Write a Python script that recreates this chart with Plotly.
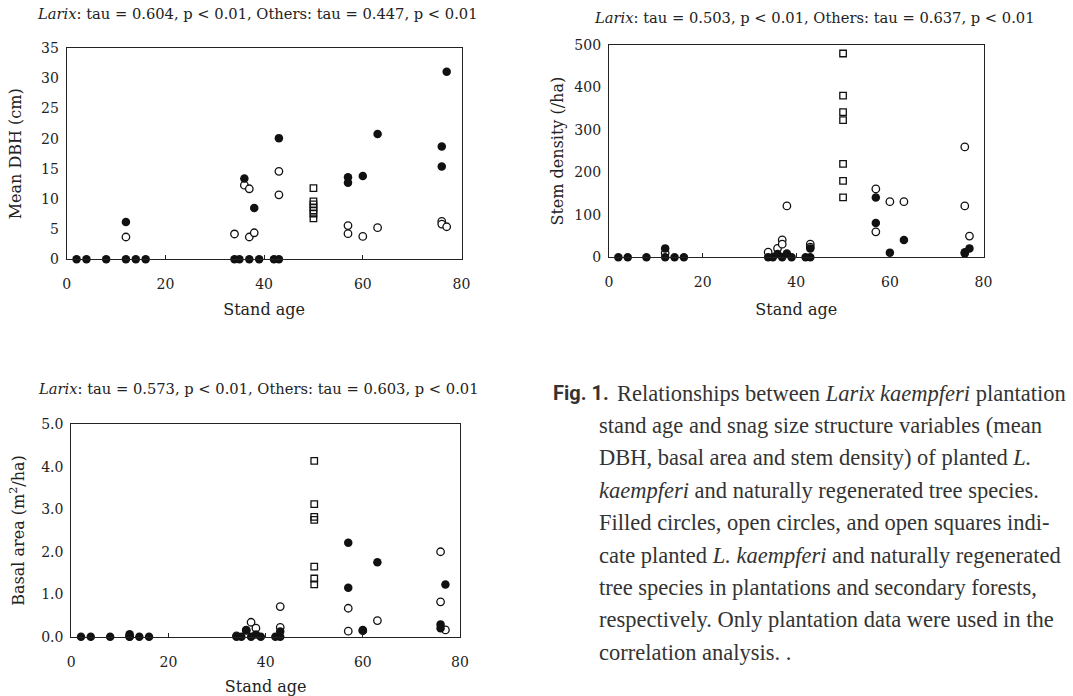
import plotly.graph_objects as go

W, H = 1073, 696

# ---------------- data ----------------
# Mean DBH (cm)
larix_dbh_age = [2, 4, 8, 12, 12, 14, 16, 34, 35, 36, 37, 38, 39, 42, 43, 43, 57, 57, 60, 63, 76, 76, 77]
larix_dbh = [0, 0, 0, 0, 6.2, 0, 0, 0, 0, 13.4, 0, 8.5, 0, 0, 0, 20.1, 13.6, 12.7, 13.8, 20.8, 18.7, 15.4, 31.1]
others_dbh_age = [12, 34, 36, 37, 37, 38, 43, 43, 57, 57, 60, 63, 76, 76, 77]
others_dbh = [3.7, 4.2, 12.3, 11.7, 3.7, 4.4, 14.6, 10.7, 5.6, 4.25, 3.8, 5.25, 6.3, 5.85, 5.4]
secondary_dbh_age = [50, 50, 50, 50, 50, 50, 50]
secondary_dbh = [11.8, 9.6, 9.1, 8.6, 8.1, 7.6, 6.8]

# Stem density (/ha)
larix_den_age = [2, 4, 8, 12, 12, 14, 16, 34, 35, 36, 37, 38, 39, 42, 43, 43, 57, 57, 60, 63, 76, 76, 77]
larix_den = [0, 0, 0, 0, 21, 0, 0, 0, 0, 8, 0, 9, 0, 0, 0, 21, 141, 81, 11, 41, 9, 12, 21]
others_den_age = [12, 34, 36, 37, 37, 38, 43, 43, 57, 57, 60, 63, 76, 76, 77]
others_den = [10, 12, 21, 41, 31, 121, 31, 24, 161, 60, 131, 131, 260, 121, 50]
secondary_den_age = [50, 50, 50, 50, 50, 50, 50]
secondary_den = [480, 381, 342, 323, 220, 180, 141]

# Basal area (m2/ha)
larix_ba_age = [2, 4, 8, 12, 12, 14, 16, 34, 35, 36, 37, 38, 39, 42, 43, 43, 57, 57, 60, 63, 76, 76, 77]
larix_ba = [0, 0, 0, 0, 0.06, 0, 0, 0, 0, 0.16, 0, 0.05, 0, 0, 0, 0.12, 2.21, 1.15, 0.16, 1.75, 0.29, 0.2, 1.23]
others_ba_age = [12, 34, 36, 37, 38, 43, 43, 57, 57, 60, 63, 76, 76, 77]
others_ba = [0.01, 0.02, 0.15, 0.34, 0.2, 0.71, 0.22, 0.67, 0.13, 0.14, 0.38, 2.0, 0.82, 0.16]
secondary_ba_age = [50, 50, 50, 50, 50, 50, 50]
secondary_ba = [4.14, 3.12, 2.82, 2.75, 1.65, 1.37, 1.23]

panel_titles = [
    "<i>Larix</i>: tau = 0.604, p &lt; 0.01, Others: tau = 0.447, p &lt; 0.01",
    "<i>Larix</i>: tau = 0.503, p &lt; 0.01, Others: tau = 0.637, p &lt; 0.01",
    "<i>Larix</i>: tau = 0.573, p &lt; 0.01, Others: tau = 0.603, p &lt; 0.01",
]
y_titles = ["Mean DBH (cm)", "Stem density (/ha)", "Basal area (m<sup>2</sup>/ha)"]
x_title = "Stand age"

caption_label = "<b>Fig. 1.</b>"
caption_lines = [
    "Relationships between <i>Larix kaempferi</i> plantation",
    "stand age and snag size structure variables (mean",
    "DBH, basal area and stem density) of planted <i>L.</i>",
    "<i>kaempferi</i> and naturally regenerated tree species.",
    "Filled circles, open circles, and open squares indi-",
    "cate planted <i>L. kaempferi</i> and naturally regenerated",
    "tree species in plantations and secondary forests,",
    "respectively. Only plantation data were used in the",
    "correlation analysis. .",
]

# ---------------- layout helpers ----------------
SERIF = "DejaVu Serif"
INK = "#222"


def px_x(p):
    return p / W


def px_y(p):
    return 1 - p / H


# pixel boxes: (left, right, top, bottom)
boxes = [
    (66.7, 461.5, 48.3, 259.3),
    (609.0, 983.5, 45.0, 257.3),
    (71.3, 460.0, 424.3, 636.7),
]
x_title_standoff = [12, 14, 15]
y_title_standoff = [15, 6, 12]

fig = go.Figure()

panels = [
    (larix_dbh_age, larix_dbh, others_dbh_age, others_dbh, secondary_dbh_age, secondary_dbh),
    (larix_den_age, larix_den, others_den_age, others_den, secondary_den_age, secondary_den),
    (larix_ba_age, larix_ba, others_ba_age, others_ba, secondary_ba_age, secondary_ba),
]

for i, (la, lv, oa, ov, sa, sv) in enumerate(panels):
    xa = "x" if i == 0 else f"x{i+1}"
    ya = "y" if i == 0 else f"y{i+1}"
    fig.add_trace(go.Scatter(x=sa, y=sv, mode="markers", xaxis=xa, yaxis=ya,
                             marker=dict(symbol="square-open", size=6.5, color="#111",
                                         line=dict(width=1.3, color="#111")),
                             cliponaxis=False, showlegend=False))
    fig.add_trace(go.Scatter(x=oa, y=ov, mode="markers", xaxis=xa, yaxis=ya,
                             marker=dict(symbol="circle", size=7.5, color="white",
                                         line=dict(width=1.3, color="#111")),
                             cliponaxis=False, showlegend=False))
    fig.add_trace(go.Scatter(x=la, y=lv, mode="markers", xaxis=xa, yaxis=ya,
                             marker=dict(symbol="circle", size=8.5, color="#111",
                                         line=dict(width=0, color="#111")),
                             cliponaxis=False, showlegend=False))

yranges = [[0, 35], [0, 500], [0, 5]]
ydticks = [5, 100, 1]
yformats = ["d", "d", ".1f"]

axis_common = dict(showline=True, linecolor=INK, linewidth=1.2, mirror=True,
                   showgrid=False, zeroline=False, automargin=False,
                   tickfont=dict(family=SERIF, size=14, color=INK))

layout = dict(width=W, height=H, margin=dict(l=0, r=0, t=0, b=0),
              paper_bgcolor="white", plot_bgcolor="white", showlegend=False)

for i, (l, r, t, b) in enumerate(boxes):
    xk = "xaxis" if i == 0 else f"xaxis{i+1}"
    yk = "yaxis" if i == 0 else f"yaxis{i+1}"
    xa = "x" if i == 0 else f"x{i+1}"
    ya = "y" if i == 0 else f"y{i+1}"
    layout[xk] = dict(axis_common, domain=[px_x(l), px_x(r)], range=[0, 80], dtick=20,
                      anchor=ya, ticks="inside", ticklen=4, tickcolor=INK,
                      ticklabelstandoff=12,
                      title=dict(text=x_title, standoff=x_title_standoff[i],
                                 font=dict(family=SERIF, size=16, color=INK)))
    layout[yk] = dict(axis_common, domain=[px_y(b), px_y(t)], range=yranges[i],
                      dtick=ydticks[i], tickformat=yformats[i], anchor=xa,
                      ticks="", ticklabelstandoff=4,
                      title=dict(text=y_titles[i], standoff=y_title_standoff[i],
                                 font=dict(family=SERIF, size=16, color=INK)))

fig.update_layout(**layout)

annotations = []
title_pos = [(257, 14), (814, 17), (258, 388)]
for (cx, cy), txt in zip(title_pos, panel_titles):
    annotations.append(dict(text=txt, x=px_x(cx), y=px_y(cy), xref="paper", yref="paper",
                            xanchor="center", yanchor="middle", showarrow=False,
                            font=dict(family=SERIF, size=14.7, color=INK)))

# caption
cap_font = dict(family="Liberation Serif", size=22.5, color="#333")
annotations.append(dict(text=caption_label, x=px_x(611), y=px_y(393), xref="paper", yref="paper",
                        xanchor="right", yanchor="middle", showarrow=False,
                        font=dict(family="Liberation Sans Narrow, Roboto, sans-serif", size=20,
                                  color="#333")))
line_y0, line_dy = 393, 32.4
for k, line in enumerate(caption_lines):
    x0 = 615 if k == 0 else 597
    annotations.append(dict(text=line, x=px_x(x0), y=px_y(line_y0 + k * line_dy),
                            xref="paper", yref="paper", xanchor="left", yanchor="middle",
                            showarrow=False, font=cap_font))

fig.update_layout(annotations=annotations)
fig.write_html("out.html", config={"displayModeBar": False},
               post_script="document.body.style.margin='0px';")
